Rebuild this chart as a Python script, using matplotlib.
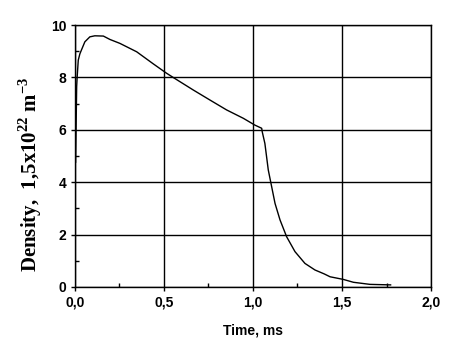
import numpy as np
import matplotlib
matplotlib.use('Agg')
import matplotlib.pyplot as plt
from matplotlib.ticker import MultipleLocator, FuncFormatter

plt.rcParams['mathtext.fontset'] = 'custom'
plt.rcParams['mathtext.rm'] = 'Liberation Serif:bold'
plt.rcParams['mathtext.bf'] = 'Liberation Serif:bold'

# density curve (time in ms, density in 1.5e22 m^-3)
time_ms = [0.003, 0.004, 0.010, 0.013, 0.019, 0.028, 0.037, 0.056, 0.084, 0.112,
           0.160, 0.197, 0.253, 0.347, 0.440, 0.515, 0.552, 0.665, 0.758, 0.852,
           0.946, 1.011, 1.049, 1.052, 1.067, 1.086, 1.105, 1.124, 1.152, 1.189,
           1.236, 1.292, 1.348, 1.400, 1.433, 1.507, 1.564, 1.657, 1.773]
density = [4.75, 4.75, 7.65, 8.03, 8.66, 8.90, 9.05, 9.36, 9.55, 9.59,
           9.58, 9.45, 9.30, 8.98, 8.52, 8.16, 8.00, 7.52, 7.14, 6.76,
           6.44, 6.18, 6.06, 5.93, 5.48, 4.47, 3.83, 3.19, 2.56, 1.92,
           1.35, 0.90, 0.65, 0.50, 0.39, 0.29, 0.18, 0.10, 0.08]

x_ticks = [0.0, 0.5, 1.0, 1.5, 2.0]
y_ticks = [0, 2, 4, 6, 8, 10]

tick_font = ['Liberation Sans', 'DejaVu Sans']

fig = plt.figure(figsize=(4.68, 3.53), dpi=100, facecolor='white')
ax = fig.add_axes([0.160, 0.187, 0.761, 0.742])

ax.plot(time_ms, density, color='black', linewidth=1.0)

ax.set_xlim(0, 2.0)
ax.set_ylim(0, 10)
ax.set_xticks(x_ticks)
ax.set_yticks(y_ticks)
ax.xaxis.set_minor_locator(MultipleLocator(0.25))
ax.yaxis.set_minor_locator(MultipleLocator(1))
ax.xaxis.set_major_formatter(FuncFormatter(lambda v, p: ('%.1f' % v).replace('.', ',')))
ax.yaxis.set_major_formatter(FuncFormatter(lambda v, p: '%d' % v))

ax.grid(True, which='major', color='black', linewidth=1.0)
ax.tick_params(which='major', direction='out', length=3, width=1, color='black', pad=3)
ax.tick_params(which='minor', direction='in', length=3, width=1, color='black')
for lab in ax.get_xticklabels() + ax.get_yticklabels():
    lab.set_family(tick_font)
    lab.set_fontweight('bold')
    lab.set_fontsize(10)
for s in ax.spines.values():
    s.set_color('black')
    s.set_linewidth(1.0)

ax.set_xlabel('Time, ms', family=tick_font, fontsize=10, fontweight='bold')
ax.xaxis.set_label_coords(0.5, -0.14)
ax.set_ylabel(r'Density,  1,5x10$^{22}$ m$^{-3}$', family='Liberation Serif',
              fontsize=15, fontweight='bold')
ax.yaxis.set_label_coords(-0.088, 0.43)

fig.savefig('out.png', dpi=100, facecolor='white')
